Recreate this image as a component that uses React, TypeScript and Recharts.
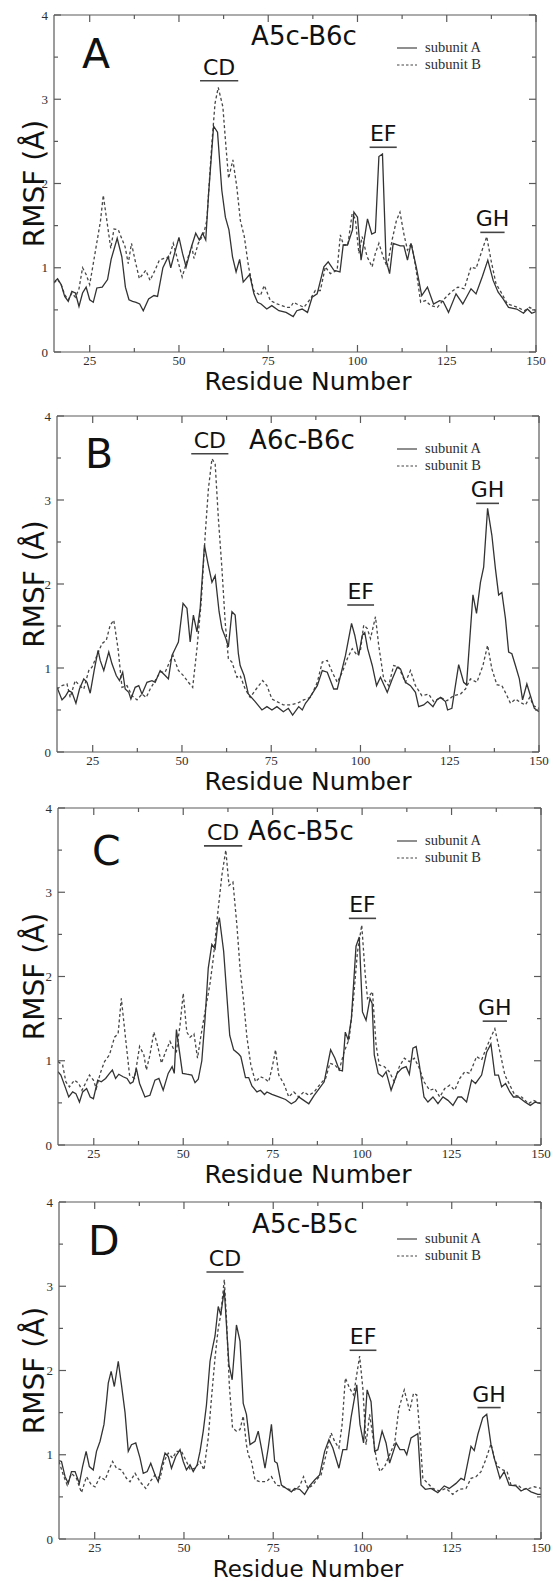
import React from "react";
import { LineChart, Line, XAxis, YAxis, ReferenceLine } from "recharts";

type Pt = [number, number];

const SANS = "'DejaVu Sans', Verdana, sans-serif";
const SERIF = "'Liberation Serif', 'Times New Roman', serif";
const AXIS = "#5a5a5a";
const INK = "#2e2e2e";

// residue axis and RMSF axis
const xTicks = [25, 37.5, 50, 62.5, 75, 87.5, 100, 112.5, 125, 137.5, 150];
const xTickLabels = [25, 50, 75, 100, 125, 150];
const yTicks = [0, 0.5, 1, 1.5, 2, 2.5, 3, 3.5, 4];
const yTickLabels = [0, 1, 2, 3, 4];

// panel A  (A5c-B6c)
const aSubA: Pt[] = [[15,0.83],[16,0.87],[17,0.8],[18,0.66],[19,0.6],[20,0.72],[21,0.7],[22,0.54],[23,0.7],[24,0.77],[25,0.62],[26,0.59],[27,0.76],[28.5,0.77],[30,0.86],[31,1.1],[32.7,1.35],[34,1.13],[35,0.77],[36,0.62],[37,0.6],[38,0.59],[39,0.57],[40,0.49],[41.5,0.63],[43,0.67],[44,0.66],[45.5,1.0],[47,1.13],[47.7,1.0],[48.5,1.13],[50,1.36],[51,1.17],[52,1.01],[53.5,1.25],[54.7,1.41],[55.7,1.33],[56.6,1.41],[57.5,1.33],[58.3,1.88],[59.7,2.68],[60.8,2.61],[62,1.92],[63,1.6],[64,1.45],[65,1.13],[66,0.95],[67,1.1],[68,0.83],[69.8,0.92],[71,0.69],[72,0.59],[73,0.57],[74.6,0.51],[76,0.55],[78,0.49],[80,0.47],[82,0.42],[83,0.49],[84.5,0.51],[86,0.47],[87.3,0.65],[88.7,0.69],[90.6,1.01],[91.8,1.07],[93.4,0.97],[95.1,0.95],[96,1.27],[97.2,1.27],[98.6,1.45],[99,1.66],[100,1.6],[101,1.09],[102.8,1.58],[104,1.4],[105,1.42],[106,2.32],[107,2.35],[108,1.09],[109,0.93],[110,1.29],[112,1.26],[113,1.26],[114,1.09],[115,1.29],[116.5,1.0],[118,0.67],[119.6,0.77],[121.3,0.57],[123,0.61],[124,0.6],[125.5,0.47],[127.6,0.69],[129.5,0.57],[131.8,0.75],[133.2,0.69],[135,0.9],[136.5,1.09],[138,0.85],[139.4,0.71],[140.8,0.63],[142.3,0.53],[144.6,0.51],[146.5,0.46],[147.6,0.51],[148.8,0.46],[150,0.48]];
const aSubB: Pt[] = [[15,0.82],[16,0.86],[17,0.8],[18,0.68],[19,0.62],[20,0.7],[21,0.65],[22,0.75],[23,1.0],[24,0.92],[25,0.8],[26,1.05],[27,1.3],[28,1.55],[28.8,1.86],[30,1.5],[30.9,1.23],[31.8,1.46],[33,1.45],[34.9,1.25],[35.8,1.05],[36.7,1.29],[37.7,1.09],[38.9,0.87],[40.7,0.97],[41.9,0.85],[43.3,0.97],[44.5,1.09],[45.8,1.11],[47.3,1.13],[48.4,1.29],[49.4,1.13],[50.9,0.89],[52.6,1.13],[53.6,1.25],[54.2,1.11],[55.4,1.29],[56.9,1.4],[57.8,1.56],[59.2,2.47],[60.1,2.95],[61,3.14],[62.3,2.91],[63.1,2.47],[63.9,2.06],[65.1,2.28],[66.2,1.96],[67.2,1.56],[68.3,1.37],[69.5,1.01],[70.9,0.73],[72.8,0.67],[73.9,0.79],[75.6,0.61],[77.5,0.57],[80.3,0.53],[81.2,0.53],[82.1,0.59],[83,0.57],[85,0.53],[86.8,0.63],[88.2,0.73],[89.6,0.73],[91,1.01],[92.4,0.93],[94.3,0.97],[95.2,1.39],[96.1,1.27],[97.3,1.27],[98.5,1.64],[99.4,1.58],[100.4,1.17],[101.3,1.37],[102.7,1.13],[104.1,1.01],[105,1.17],[106,1.29],[107.2,1.13],[108.3,1.01],[109.7,1.33],[110.9,1.56],[111.9,1.66],[113,1.4],[114,1.21],[115.1,1.29],[116.3,1.01],[117.7,0.59],[119.1,0.61],[120.5,0.55],[122.4,0.53],[124.3,0.63],[126.2,0.71],[128.1,0.77],[129.9,0.75],[131.8,1.01],[133.2,0.99],[134.6,1.17],[136.2,1.37],[137.4,1.09],[138.8,0.81],[140.2,0.71],[142,0.57],[144.9,0.53],[146.7,0.49],[148.2,0.53],[150,0.49]];

// panel B  (A6c-B6c)
const bSubA: Pt[] = [[15,0.77],[16.4,0.62],[17.3,0.66],[18.3,0.73],[19.2,0.71],[20.3,0.58],[21.3,0.75],[22.5,0.87],[23.4,0.83],[24.3,0.7],[25.4,0.97],[26.5,1.21],[27.1,1.09],[28.1,0.97],[29.5,1.19],[30.4,1.05],[31.6,0.91],[32.5,0.85],[33.4,0.95],[34.1,0.75],[35.1,0.71],[35.7,0.63],[36.9,0.77],[37.9,0.79],[38.8,0.69],[40.2,0.83],[41.6,0.85],[42.5,0.83],[43.9,0.97],[45.3,0.91],[46.2,0.87],[47.2,1.15],[48.1,1.23],[49,1.31],[50.3,1.77],[51.4,1.71],[52.3,1.31],[53.2,1.63],[54.2,1.43],[55.1,1.71],[56.3,2.46],[57.3,2.24],[58.4,2.02],[59.3,2.1],[60.4,1.67],[61.2,1.47],[62.3,1.35],[63,1.25],[64,1.67],[64.9,1.63],[65.8,1.17],[66.3,1.03],[67.4,0.91],[68.6,0.69],[70.5,0.6],[72.4,0.5],[73.8,0.54],[75.2,0.5],[76.6,0.54],[78.4,0.48],[79.8,0.52],[81,0.44],[82.7,0.54],[83.7,0.5],[84.6,0.58],[85.5,0.63],[87.9,0.79],[89.3,0.97],[90.7,0.95],[92.5,0.75],[93.5,0.75],[95.8,1.15],[97.5,1.53],[98.4,1.39],[99.5,1.15],[100.5,1.39],[101.2,1.42],[102,1.23],[103.3,1.03],[104.5,0.79],[105.6,0.89],[107.5,0.71],[108.9,0.87],[110.3,1.01],[111.2,0.99],[112.6,0.83],[114,0.79],[115.4,0.71],[116.3,0.54],[117.7,0.56],[118.8,0.6],[120.3,0.54],[121.4,0.62],[122.4,0.65],[123.8,0.6],[124.4,0.5],[125.6,0.52],[127.5,1.04],[128.9,0.83],[129.7,0.8],[131.5,1.87],[132.5,1.65],[133.6,2.02],[134.5,2.2],[135.6,2.9],[136.8,2.58],[137.8,2.18],[138.7,1.87],[139.6,1.9],[140.6,1.59],[141.5,1.19],[142.4,1.17],[143.4,1.03],[144.5,0.87],[145.4,0.62],[146.6,0.81],[147.6,0.67],[148.7,0.52],[150,0.48]];
const bSubB: Pt[] = [[15,0.75],[16.4,0.79],[17.8,0.81],[18.7,0.65],[20.1,0.85],[21.3,0.79],[22.5,0.75],[23.9,0.97],[24.8,1.01],[26.2,1.15],[27.6,1.29],[28.8,1.33],[29.9,1.51],[30.9,1.57],[32.1,1.23],[33.2,0.77],[34.6,0.79],[36,0.67],[37.4,0.62],[38.8,0.69],[40,0.65],[41.1,0.75],[42.5,0.85],[43.9,0.95],[45.3,0.95],[46.5,1.07],[47.5,1.15],[49,0.97],[50.4,0.91],[51.8,0.83],[53,0.77],[54.2,1.23],[55.4,1.79],[56.5,2.58],[57.4,3.13],[58.4,3.49],[59.3,3.43],[60.2,2.78],[61.2,2.18],[62.1,1.55],[63,1.11],[64,1.07],[65.4,0.89],[66.3,0.91],[67.7,0.75],[69.1,0.65],[70.8,0.75],[72.6,0.85],[73.8,0.79],[75.2,0.63],[76.6,0.6],[78.4,0.56],[80.4,0.56],[82.3,0.58],[84.1,0.62],[86,0.65],[87.9,0.83],[89.3,1.07],[90.7,1.09],[92.1,0.95],[93.5,0.83],[94.9,0.95],[96.3,1.11],[97.7,1.23],[99.1,1.15],[100,1.21],[100.9,1.51],[101.9,1.47],[102.8,1.35],[104.2,1.61],[105.1,1.27],[106.5,0.87],[107.9,0.79],[109.3,1.03],[110.7,1.01],[112.6,0.83],[114,0.97],[115.4,0.79],[117.2,0.67],[119.1,0.69],[120.5,0.6],[122.4,0.65],[124.2,0.61],[126.1,0.67],[128,0.69],[129.4,0.75],[130.8,0.87],[132.6,0.83],[134.3,1.03],[135.6,1.27],[136.8,0.99],[138.2,0.8],[139.6,0.79],[140.8,0.69],[142,0.58],[143.4,0.63],[144.8,0.59],[146.2,0.56],[147.4,0.65],[148.5,0.55],[150,0.52]];

// panel C  (A6c-B5c)
const cSubA: Pt[] = [[15,0.87],[15.8,0.83],[17,0.69],[18,0.57],[19.1,0.63],[20,0.61],[21,0.51],[21.9,0.63],[23,0.67],[24,0.57],[24.9,0.55],[26.1,0.77],[27.1,0.75],[28.3,0.79],[29.4,0.85],[30.2,0.89],[31.1,0.79],[32,0.84],[33.2,0.81],[34.3,0.79],[35.2,0.73],[36,0.75],[36.9,0.91],[37.8,0.73],[39.3,0.57],[40.7,0.59],[42.1,0.77],[43.2,0.79],[44.4,0.65],[45.8,0.85],[46.9,0.93],[47.5,0.85],[48.1,1.37],[49.8,0.85],[51,0.84],[52.4,0.83],[53.3,0.74],[54.2,0.78],[55.2,1.0],[56.1,1.5],[57,2.1],[58,2.38],[58.9,2.33],[59.6,2.6],[60.1,2.7],[61.3,2.3],[63,1.3],[64.1,1.13],[65.5,1.08],[66.1,1.05],[67.4,0.8],[68.3,0.8],[69.2,0.7],[70.6,0.63],[71.6,0.65],[72.7,0.6],[73.4,0.63],[74.8,0.6],[76.7,0.57],[78.6,0.54],[80.2,0.49],[81.4,0.52],[82.3,0.57],[83.7,0.53],[85.1,0.49],[86.6,0.59],[88,0.67],[89.4,0.75],[91.2,1.13],[92.4,1.03],[93.6,0.89],[94.5,0.88],[95.3,1.34],[96.1,1.25],[97,1.5],[98.3,2.36],[99.2,2.47],[100.1,1.58],[101.1,1.48],[102.2,1.74],[102.8,1.68],[103.4,1.07],[104.5,0.85],[105.7,0.81],[106.7,0.87],[108.1,0.65],[109.8,0.85],[111.1,0.91],[112.3,0.93],[113.2,0.84],[114.2,1.15],[115.1,1.17],[116,0.95],[117.3,0.57],[118.4,0.51],[119.8,0.57],[121.2,0.49],[122.6,0.57],[124,0.53],[125.4,0.47],[126.8,0.57],[127.8,0.57],[129.2,0.51],[130.6,0.77],[131.7,0.73],[133.4,0.83],[134.8,1.1],[136,1.2],[137.1,0.83],[138.1,0.83],[139,0.69],[140.1,0.73],[141.3,0.63],[142.3,0.57],[143.7,0.57],[145.5,0.51],[147,0.47],[148.4,0.51],[150,0.49]];
const cSubB: Pt[] = [[15,0.99],[16.3,0.95],[17.2,0.75],[18.2,0.69],[19.6,0.77],[20.8,0.73],[21.7,0.65],[22.9,0.75],[23.8,0.83],[24.9,0.77],[25.7,0.67],[26.8,0.85],[28,0.99],[29.4,1.07],[30.8,1.28],[31.8,1.32],[32.7,1.74],[33.9,1.26],[35,0.83],[36.4,0.79],[37.8,1.17],[39,1.07],[39.7,0.89],[40.7,1.07],[41.8,1.34],[43,1.15],[43.9,0.97],[45.1,1.11],[46.3,1.23],[47.2,1.15],[48.1,1.11],[49.1,1.42],[50,1.8],[51,1.34],[51.9,1.28],[53,1.32],[54,1.03],[54.7,1.23],[55.6,1.46],[56.6,1.7],[57.5,1.92],[58.4,2.21],[59.6,2.73],[60.8,3.2],[61.9,3.5],[62.8,3.08],[63.9,3.12],[65,2.61],[65.9,2.09],[66.9,1.7],[67.8,1.28],[68.9,0.95],[70.2,0.75],[71.6,0.81],[72.7,0.79],[73.9,0.75],[75,0.95],[75.8,1.13],[76.7,0.83],[78.1,0.73],[79.5,0.57],[80.9,0.63],[82.3,0.57],[83.7,0.63],[85.1,0.59],[86.6,0.63],[88.4,0.73],[89.8,0.79],[91,0.97],[92.4,0.95],[93.6,0.89],[95,1.11],[96.4,1.26],[97.6,1.74],[98.7,2.29],[99.9,2.61],[100.8,2.06],[101.5,1.74],[102.9,1.82],[103.9,1.19],[104.8,0.95],[106.2,0.93],[107.6,0.87],[109,0.75],[110.4,0.93],[111.8,1.03],[113.2,0.99],[114.6,1.03],[116,0.91],[117.3,0.75],[118.9,0.65],[120.3,0.67],[121.7,0.57],[123.1,0.67],[124.5,0.71],[125.9,0.65],[127.3,0.79],[128.7,0.87],[130.1,0.85],[132,1.05],[133.4,1.01],[134.8,1.16],[136,1.28],[137.1,1.38],[138.5,1.11],[139.9,0.83],[141.3,0.71],[142.7,0.59],[144.6,0.57],[146.5,0.49],[147.9,0.53],[150,0.49]];

// panel D  (A5c-B5c)
const dSubA: Pt[] = [[15,0.93],[15.7,0.92],[16.7,0.74],[17.6,0.66],[18.5,0.8],[19.5,0.8],[20.7,0.66],[21.6,0.86],[22.6,1.04],[23.5,0.86],[24.6,0.82],[25.5,1.04],[26.5,1.16],[27.6,1.36],[28.3,1.63],[28.8,1.85],[29.6,1.99],[30.5,1.81],[31.6,2.11],[32.5,1.83],[33.5,1.5],[34.4,1.04],[35.3,1.12],[36.5,1.14],[37.7,0.96],[38.6,0.78],[39.7,0.8],[40.7,0.9],[41.9,0.76],[42.8,0.68],[43.7,0.86],[44.7,1.02],[45.6,0.98],[46.5,0.84],[47.7,0.98],[48.9,1.06],[49.8,0.92],[50.7,0.82],[51.7,0.88],[52.6,0.8],[53.7,0.88],[54.5,1.04],[55.4,1.28],[56.3,1.59],[57.3,2.11],[58,2.27],[58.7,2.41],[59.6,2.76],[60.3,2.66],[61.3,2.96],[61.9,2.54],[62.6,2.07],[63.5,1.89],[64.7,2.54],[65.7,2.35],[66.6,1.61],[67.5,1.48],[68.5,1.12],[69.9,1.16],[70.8,1.28],[71.7,1.08],[72.7,0.84],[73.6,1.08],[74.5,1.36],[75.4,0.92],[76.1,0.9],[77.3,0.64],[78.7,0.6],[80.1,0.56],[81,0.6],[82.4,0.59],[83.8,0.53],[85.2,0.63],[86.6,0.7],[88,0.76],[89.4,1.04],[90.6,1.18],[91.7,1.08],[93.4,0.84],[94.5,1.06],[95.6,1.06],[96.8,1.44],[98.4,1.83],[99.3,1.36],[100.3,1.14],[101.3,1.77],[102.4,1.63],[103.4,1.04],[104.3,1.06],[105.5,1.28],[106.6,1.14],[107.6,0.9],[109.4,1.14],[110.5,1.06],[111.7,1.06],[112.4,1.0],[113.6,1.2],[115.5,1.25],[116.4,0.64],[117.6,0.59],[119.2,0.6],[121.1,0.55],[122.9,0.63],[124.3,0.6],[126.2,0.66],[127.6,0.72],[128.5,0.7],[130.4,1.1],[131.3,1.05],[132.3,1.24],[133.7,1.44],[134.8,1.48],[136,1.12],[136.9,0.96],[138.5,0.72],[139.7,0.8],[141.1,0.64],[143,0.63],[144.4,0.57],[145.8,0.6],[147.2,0.56],[149.1,0.53],[150,0.53]];
const dSubB: Pt[] = [[15,0.92],[16.2,0.76],[17.3,0.64],[18.5,0.78],[19.9,0.72],[21.3,0.55],[22.7,0.74],[24.1,0.64],[25.1,0.62],[26.5,0.74],[27.9,0.7],[28.8,0.8],[30,0.92],[31.1,0.84],[32.5,0.82],[33.9,0.72],[34.9,0.68],[36.3,0.78],[37.7,0.68],[39.3,0.6],[40.5,0.68],[41.9,0.76],[43.3,0.72],[44.4,0.92],[45.6,1.02],[46.8,0.96],[47.9,1.04],[49.3,1.04],[50.7,0.92],[51.8,0.82],[53.1,0.84],[54.5,0.92],[55.6,0.82],[56.8,1.2],[57.7,1.67],[58.7,2.15],[59.6,2.5],[60.3,2.66],[61.3,3.08],[61.9,2.62],[62.7,1.83],[63.6,1.32],[64.7,1.28],[65.7,1.3],[66.6,1.46],[67.5,1.12],[68,1.0],[68.9,0.92],[69.9,0.7],[71.3,0.68],[73.1,0.68],[74.5,0.74],[75.9,0.64],[77.8,0.62],[79.4,0.59],[81,0.58],[82.4,0.63],[83.5,0.74],[84.7,0.6],[86.1,0.64],[87.5,0.72],[88.4,0.76],[89.8,1.0],[91.2,1.26],[92.2,1.16],[93.4,1.08],[94.3,1.36],[95.2,1.91],[96.4,1.79],[97.5,1.71],[99.2,2.17],[100.1,1.79],[101,1.12],[102,1.48],[102.9,1.22],[104,0.92],[104.9,0.8],[106.2,0.86],[107.6,1.0],[109,1.14],[110.2,1.55],[111.7,1.77],[113.2,1.52],[114.3,1.73],[115.2,1.71],[116.1,1.24],[116.9,0.72],[118.3,0.66],[119.7,0.6],[121.5,0.57],[123.4,0.6],[125.3,0.53],[127.1,0.59],[129,0.6],[130.4,0.72],[131.8,0.74],[133.2,0.8],[134.6,0.95],[136,1.13],[137,0.95],[137.9,0.86],[139.3,0.82],[140.5,0.8],[141.6,0.64],[143.5,0.64],[144.9,0.59],[146.7,0.6],[148.1,0.62],[150,0.6]];

// loop regions marked over each panel: [name, first residue, last residue, RMSF height]
const aRegions: [string, number, number, number][] = [["CD", 55.9, 66.6, 3.22], ["EF", 103.4, 111, 2.43], ["GH", 134.4, 141.2, 1.42]];
const bRegions: [string, number, number, number][] = [["CD", 52.6, 63, 3.55], ["EF", 96.3, 103.8, 1.75], ["GH", 132.4, 138.8, 2.96]];
const cRegions: [string, number, number, number][] = [["CD", 55.8, 66.5, 3.55], ["EF", 96.3, 103.9, 2.69], ["GH", 133.7, 140.5, 1.47]];
const dRegions: [string, number, number, number][] = [["CD", 56.3, 66.7, 3.17], ["EF", 96.4, 103.9, 2.24], ["GH", 132.2, 138.7, 1.56]];

const panels = [
  { letter: "A", title: "A5c-B6c", subA: aSubA, subB: aSubB, regions: aRegions, left: 54, right: 536, top: 15, bottom: 352, letterAt: [82, 68], titleAt: [304, 45], legendY: 48, xTitleY: 390, xTitleSize: 25 },
  { letter: "B", title: "A6c-B6c", subA: bSubA, subB: bSubB, regions: bRegions, left: 57, right: 539, top: 416, bottom: 752, letterAt: [85, 468], titleAt: [302, 449], legendY: 449, xTitleY: 790, xTitleSize: 25 },
  { letter: "C", title: "A6c-B5c", subA: cSubA, subB: cSubB, regions: cRegions, left: 58, right: 541, top: 808, bottom: 1145, letterAt: [92, 865], titleAt: [301, 840], legendY: 841, xTitleY: 1183, xTitleSize: 25 },
  { letter: "D", title: "A5c-B5c", subA: dSubA, subB: dSubB, regions: dRegions, left: 59, right: 541, top: 1202, bottom: 1539, letterAt: [88, 1255], titleAt: [305, 1233], legendY: 1239, xTitleY: 1576.5, xTitleSize: 23 },
];

const toRows = (pts: Pt[]) => pts.map(([r, v]) => ({ r, v }));

const LeftTick = (props: any) => {
  const { x, y, payload } = props;
  const major = yTickLabels.includes(payload.value);
  return (
    <g>
      <line x1={x} y1={y} x2={x + (major ? 7 : 4)} y2={y} stroke={AXIS} strokeWidth={1.2} />
      {major && (
        <text x={x - 6} y={y + 4.5} textAnchor="end" fontFamily={SERIF} fontSize={13} fill={INK}>
          {payload.value}
        </text>
      )}
    </g>
  );
};

const RightTick = (props: any) => {
  const { x, y, payload } = props;
  const major = yTickLabels.includes(payload.value);
  return <line x1={x} y1={y} x2={x - (major ? 7 : 4)} y2={y} stroke={AXIS} strokeWidth={1.2} />;
};

const BottomTick = (props: any) => {
  const { x, y, payload } = props;
  const major = xTickLabels.includes(payload.value);
  return (
    <g>
      <line x1={x} y1={y} x2={x} y2={y - (major ? 7 : 4)} stroke={AXIS} strokeWidth={1.2} />
      {major && (
        <text x={x} y={y + 13} textAnchor="middle" fontFamily={SERIF} fontSize={13} fill={INK}>
          {payload.value}
        </text>
      )}
    </g>
  );
};

const TopTick = (props: any) => {
  const { x, y, payload } = props;
  const major = xTickLabels.includes(payload.value);
  return <line x1={x} y1={y} x2={x} y2={y + (major ? 7 : 4)} stroke={AXIS} strokeWidth={1.2} />;
};

function Panel({ p }: { p: (typeof panels)[number] }) {
  const plotH = p.bottom - p.top;
  const height = 6 + plotH + 34;
  const frame = { stroke: AXIS, strokeWidth: 1.2 };
  return (
    <div style={{ position: "absolute", left: 0, top: p.top - 6, width: 553, height }}>
      <LineChart width={553} height={height} margin={{ top: 5, right: 553 - p.right - 1, bottom: 0, left: 0 }}>
        <XAxis xAxisId="b" type="number" dataKey="r" domain={[15, 150]} ticks={xTicks} interval={0} allowDataOverflow
          height={34} tickSize={0} tickMargin={0} tickLine={false} axisLine={frame} tick={BottomTick} />
        <XAxis xAxisId="t" orientation="top" type="number" dataKey="r" domain={[15, 150]} ticks={xTicks} interval={0} allowDataOverflow
          height={1} tickSize={0} tickMargin={0} tickLine={false} axisLine={frame} tick={TopTick} />
        <YAxis yAxisId="l" type="number" domain={[0, 4]} ticks={yTicks} interval={0} allowDataOverflow
          width={p.left} tickSize={0} tickMargin={0} tickLine={false} axisLine={frame} tick={LeftTick} />
        <YAxis yAxisId="r" orientation="right" type="number" domain={[0, 4]} ticks={yTicks} interval={0} allowDataOverflow
          width={1} tickSize={0} tickMargin={0} tickLine={false} axisLine={frame} tick={RightTick} />
        {p.regions.map(([name, from, to, h]) => (
          <ReferenceLine key={name} xAxisId="b" yAxisId="l" ifOverflow="visible"
            segment={[{ x: from, y: h }, { x: to, y: h }]} stroke="#444" strokeWidth={1.6}
            label={{ value: name, position: "top", offset: 6, fontFamily: SANS, fontSize: 22, fill: "#111" }} />
        ))}
        <Line xAxisId="b" yAxisId="l" data={toRows(p.subB)} dataKey="v" type="linear" stroke="#474747"
          strokeWidth={1.3} strokeDasharray="3 2.5" dot={false} isAnimationActive={false} />
        <Line xAxisId="b" yAxisId="l" data={toRows(p.subA)} dataKey="v" type="linear" stroke="#333"
          strokeWidth={1.3} dot={false} isAnimationActive={false} />
      </LineChart>
    </div>
  );
}

export default function App() {
  return (
    <div style={{ position: "absolute", left: 0, top: 0, width: 553, height: 1582, overflow: "hidden", background: "#fff" }}>
      {panels.map((p) => (
        <Panel key={p.letter} p={p} />
      ))}
      <svg width={553} height={1582} style={{ position: "absolute", left: 0, top: 0, pointerEvents: "none" }}>
        {panels.map((p) => {
          const midY = (p.top + p.bottom) / 2;
          return (
            <g key={p.letter}>
              <text x={p.letterAt[0]} y={p.letterAt[1]} fontFamily={SANS} fontSize={41} fill="#111">{p.letter}</text>
              <text x={p.titleAt[0]} y={p.titleAt[1]} textAnchor="middle" fontFamily={SANS} fontSize={26} fill="#111">{p.title}</text>
              <line x1={397} x2={417} y1={p.legendY} y2={p.legendY} stroke="#444" strokeWidth={1.2} />
              <text x={425} y={p.legendY + 4} fontFamily={SERIF} fontSize={14.5} fill={INK}>subunit A</text>
              <line x1={397} x2={417} y1={p.legendY + 17} y2={p.legendY + 17} stroke="#444" strokeWidth={1.2} strokeDasharray="2.5 2" />
              <text x={425} y={p.legendY + 21} fontFamily={SERIF} fontSize={14.5} fill={INK}>subunit B</text>
              <text x={308} y={p.xTitleY} textAnchor="middle" fontFamily={SANS} fontSize={p.xTitleSize} fill="#111">Residue Number</text>
              <text x={44} y={midY} textAnchor="middle" fontFamily={SANS} fontSize={28} fill="#111" transform={`rotate(-90 44 ${midY})`}>RMSF (Å)</text>
            </g>
          );
        })}
      </svg>
    </div>
  );
}
